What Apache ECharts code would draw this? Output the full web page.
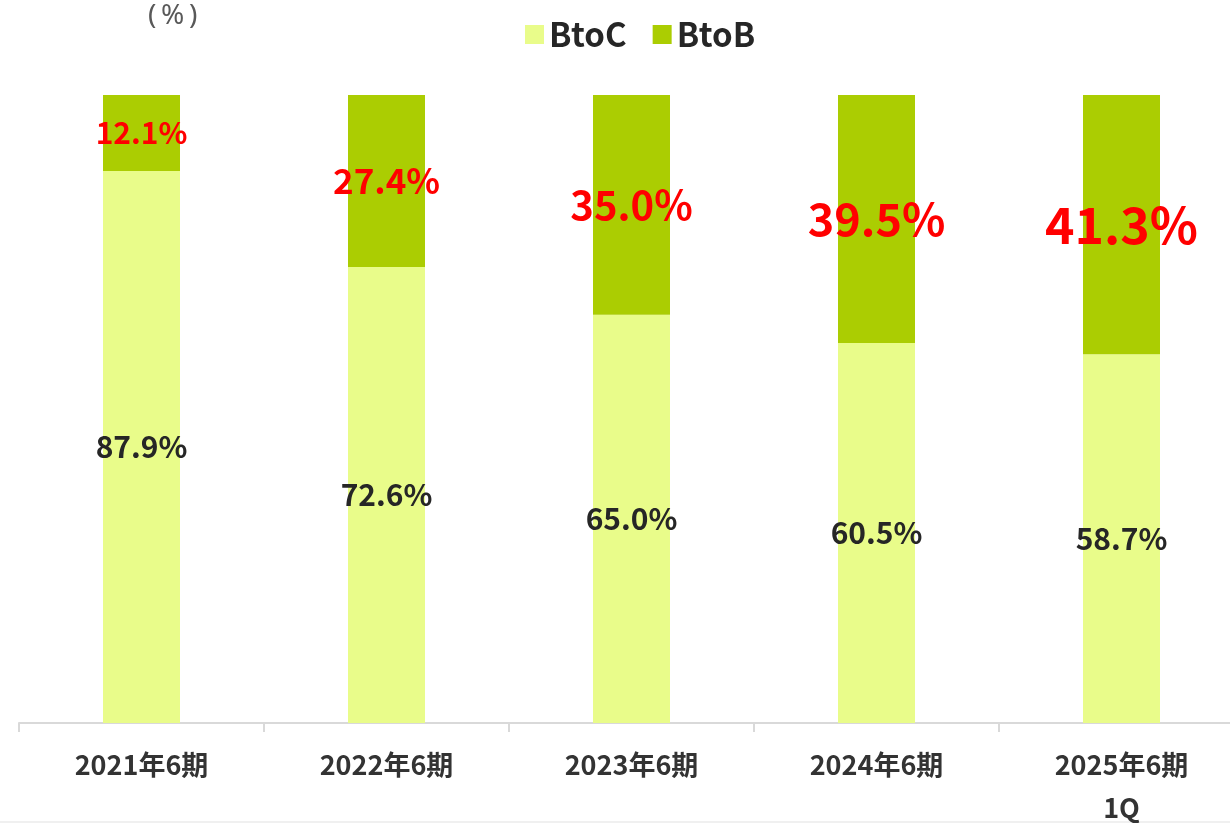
<!DOCTYPE html>
<html>
<head>
<meta charset="utf-8">
<script src="https://cdn.jsdelivr.net/npm/echarts@6/dist/echarts.min.js"></script>
<style>
html,body{margin:0;padding:0;background:#fff;}
#chart{width:1230px;height:823px;}
</style>
</head>
<body>
<div id="chart"></div>
<script>
// ---- data ----
const categories = ['2021年6期', '2022年6期', '2023年6期', '2024年6期', '2025年6期\n1Q'];
const btocValues = [87.9, 72.6, 65.0, 60.5, 58.7];
const btobValues = [12.1, 27.4, 35.0, 39.5, 41.3];
const seriesNames = ['BtoC', 'BtoB'];
const unitLabel = '(\u2009%\u2009)';

// ---- styles ----
const FONT = '"Noto Sans CJK JP", "Noto Sans", sans-serif';
const btobLabelFontSizes = [30, 35, 40, 45, 50];

const chart = echarts.init(document.getElementById('chart'));
const option = {
  backgroundColor: '#ffffff',
  animation: false,
  textStyle: { fontFamily: FONT },
  title: {
    text: unitLabel,
    left: 148,
    top: 2,
    padding: 0,
    textStyle: { fontSize: 28, fontWeight: 'normal', color: '#595959', fontFamily: '"Noto Sans", sans-serif' }
  },
  legend: {
    data: seriesNames,
    left: 520,
    top: 13,
    itemWidth: 19,
    itemHeight: 19,
    itemGap: 26,
    icon: 'rect',
    textStyle: { fontSize: 33, fontWeight: 'bold', color: '#262626', fontFamily: FONT }
  },
  graphic: [
    {
      type: 'rect',
      left: 0,
      top: 821,
      shape: { width: 1230, height: 2 },
      style: { fill: '#f0f0f0' },
      silent: true
    }
  ],
  grid: { left: 19, right: -14, top: 95, bottom: 100, containLabel: false, outerBoundsMode: 'none' },
  xAxis: {
    type: 'category',
    data: categories,
    axisLine: { show: true, lineStyle: { color: '#d9d9d9', width: 2 } },
    axisTick: { show: true, length: 9, lineStyle: { color: '#d9d9d9', width: 2 } },
    axisLabel: {
      fontSize: 27,
      fontWeight: 'bold',
      color: '#333333',
      lineHeight: 43,
      margin: 20,
      interval: 0,
      hideOverlap: false,
      fontFamily: FONT
    }
  },
  yAxis: {
    type: 'value',
    min: 0,
    max: 100,
    show: false,
    splitLine: { show: false }
  },
  series: [
    {
      name: seriesNames[0],
      type: 'bar',
      stack: 'total',
      barWidth: 77,
      itemStyle: { color: '#E9FC8A' },
      data: btocValues,
      label: {
        show: true,
        position: 'inside',
        formatter: p => p.value.toFixed(1) + '%',
        fontSize: 30,
        fontWeight: 'bold',
        color: '#262626',
        fontFamily: FONT
      }
    },
    {
      name: seriesNames[1],
      type: 'bar',
      stack: 'total',
      barWidth: 77,
      itemStyle: { color: '#ABCD02' },
      data: btobValues.map((v, i) => ({
        value: v,
        label: { fontSize: btobLabelFontSizes[i] }
      })),
      label: {
        show: true,
        position: 'inside',
        formatter: p => p.value.toFixed(1) + '%',
        fontWeight: 'bold',
        color: '#FF0000',
        fontFamily: FONT
      }
    }
  ]
};
chart.setOption(option);
</script>
</body>
</html>
